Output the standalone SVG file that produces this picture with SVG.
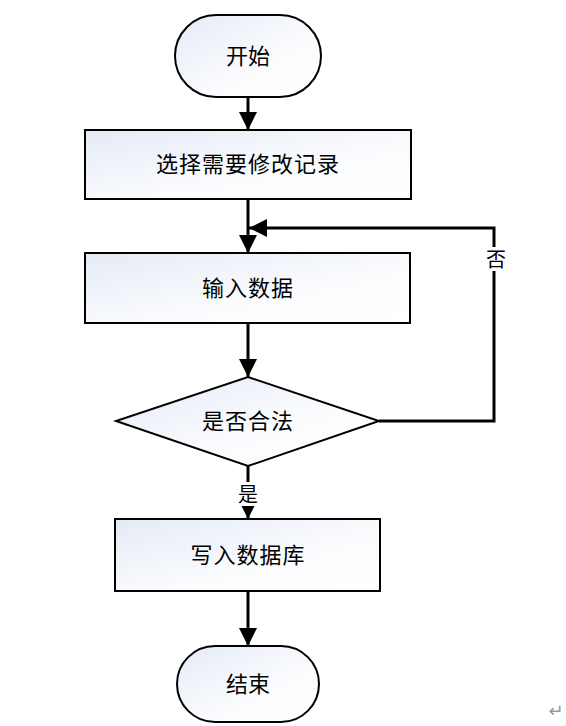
<svg xmlns="http://www.w3.org/2000/svg" width="566" height="726" viewBox="0 0 566 726">
<defs>
<linearGradient id="g" x1="0" y1="0" x2="1" y2="1">
<stop offset="0" stop-color="#e4eaf5"/>
<stop offset="0.6" stop-color="#fbfcfe"/>
<stop offset="1" stop-color="#ffffff"/>
</linearGradient>
<marker id="ah" viewBox="0 0 18 18" refX="18" refY="9" markerWidth="18" markerHeight="18" markerUnits="userSpaceOnUse" orient="auto">
<path d="M0,0 L18,9 L0,18 Z" fill="#000"/>
</marker>
</defs>
<style>
.shape{fill:url(#g);stroke:#000;stroke-width:2}
.t{font-family:"Noto Sans CJK SC","Noto Sans",sans-serif;font-size:22px;fill:#000;text-anchor:middle;dominant-baseline:central}
.c{fill:none;stroke:#000;stroke-width:3}
</style>
<rect width="566" height="726" fill="#fff"/>
<g id="start"><rect class="shape" x="175" y="15" width="146" height="82" rx="41"/><text class="t" x="248" y="54">开始</text></g>
<g id="select"><rect class="shape" x="85" y="130" width="326" height="69"/><text class="t" x="248" y="162" letter-spacing="1">选择需要修改记录</text></g>
<g id="input"><rect class="shape" x="85" y="253" width="325" height="70"/><text class="t" x="248" y="286" letter-spacing="1">输入数据</text></g>
<g id="check"><polygon class="shape" points="248,377 379,421 248,466 116,421"/><text class="t" x="248" y="419" letter-spacing="1">是否合法</text></g>
<g id="write"><rect class="shape" x="115" y="519" width="265" height="72"/><text class="t" x="248" y="553" letter-spacing="1">写入数据库</text></g>
<g id="end"><rect class="shape" x="177" y="646" width="142" height="76" rx="38"/><text class="t" x="248" y="682">结束</text></g>
<g id="connectors">
<line class="c" x1="248" y1="97" x2="248" y2="130" marker-end="url(#ah)"/>
<line class="c" x1="248" y1="199" x2="248" y2="253" marker-end="url(#ah)"/>
<line class="c" x1="248" y1="323" x2="248" y2="377" marker-end="url(#ah)"/>
<line class="c" x1="248" y1="466" x2="248" y2="519" marker-end="url(#ah)"/>
<line class="c" x1="248" y1="591" x2="248" y2="646" marker-end="url(#ah)"/>
<polyline class="c" points="379,421 494,421 494,228 249,228" marker-end="url(#ah)"/>
<rect x="484" y="247" width="22" height="24" fill="#fff"/>
<text class="t" x="496" y="258" style="font-size:20px">否</text>
<rect x="236" y="482" width="24" height="24" fill="#fff"/>
<text class="t" x="248" y="493" style="font-size:20px">是</text>
</g>
<text x="556" y="717" style="font-family:'DejaVu Sans',sans-serif;font-size:18px;fill:#999;text-anchor:middle">↵</text>
</svg>
